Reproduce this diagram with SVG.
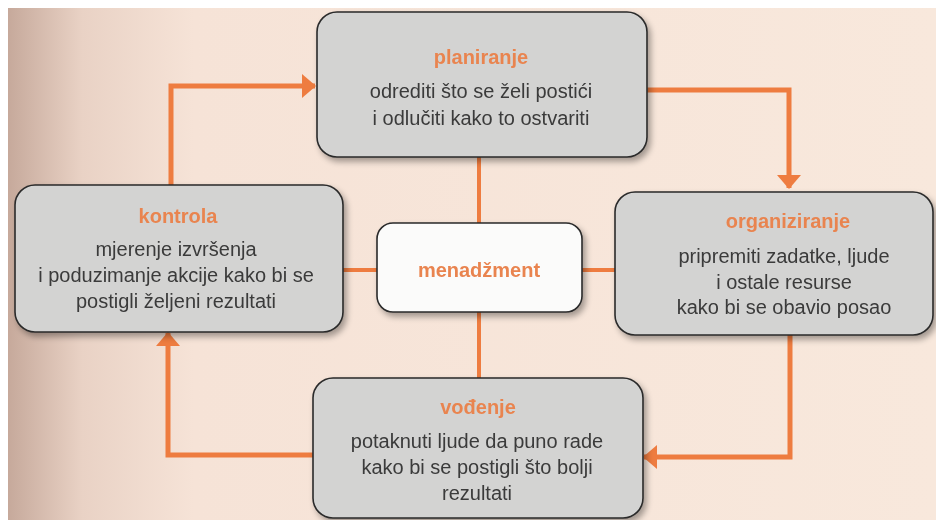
<svg xmlns="http://www.w3.org/2000/svg" width="936" height="520" viewBox="0 0 936 520">
<defs>
<linearGradient id="bg" x1="0" y1="0" x2="1" y2="0">
<stop offset="0" stop-color="#c6a99b"/>
<stop offset="0.08" stop-color="#e9d2c5"/>
<stop offset="0.2" stop-color="#f6e3d7"/>
<stop offset="1" stop-color="#f8e8dc"/>
</linearGradient>
<filter id="sh" x="-10%" y="-10%" width="125%" height="130%">
<feGaussianBlur in="SourceAlpha" stdDeviation="3"/>
<feOffset dx="3" dy="4" result="b"/>
<feComponentTransfer><feFuncA type="linear" slope="0.35"/></feComponentTransfer>
<feMerge><feMergeNode/><feMergeNode in="SourceGraphic"/></feMerge>
</filter>
<marker id="ah" viewBox="0 0 14 24" refX="13" refY="12" markerWidth="14" markerHeight="24" markerUnits="userSpaceOnUse" orient="auto">
<path d="M0,0 L14,12 L0,24 Z" fill="#ee7c40"/>
</marker>
</defs>
<style>
.box{fill:#d3d3d2;stroke:#2a2a2a;stroke-width:1.6}
.center{fill:#fbfbfa;stroke:#2a2a2a;stroke-width:1.6}
.t{font-family:"Liberation Sans",Arial,sans-serif;font-size:20px;fill:#3a3a3a;text-anchor:middle}
.h{font-family:"Liberation Sans",Arial,sans-serif;font-size:20px;font-weight:bold;fill:#e9844f;text-anchor:middle}
.c{fill:none;stroke:#ee7c40;stroke-width:5}
.l{fill:none;stroke:#ee7c40;stroke-width:4}
</style>
<rect x="0" y="0" width="936" height="520" fill="#ffffff"/>
<rect x="8" y="8" width="928" height="512" fill="url(#bg)"/>
<g id="connectors">
<path class="l" d="M479,157 V223"/>
<path class="l" d="M479,312 V378"/>
<path class="l" d="M343,270 H377"/>
<path class="l" d="M582,270 H615"/>
<path class="c" d="M171,185 V86 H315" marker-end="url(#ah)"/>
<path class="c" d="M647,90 H789 V188" marker-end="url(#ah)"/>
<path class="c" d="M790,335 V457 H644" marker-end="url(#ah)"/>
<path class="c" d="M313,455 H168 V333" marker-end="url(#ah)"/>
</g>
<g id="planiranje" filter="url(#sh)">
<rect class="box" x="317" y="12" width="330" height="145" rx="20"/>
<text class="h" x="481" y="64">planiranje</text>
<text class="t" x="481" y="98">odrediti što se želi postići</text>
<text class="t" x="481" y="125">i odlučiti kako to ostvariti</text>
</g>
<g id="kontrola" filter="url(#sh)">
<rect class="box" x="15" y="185" width="328" height="147" rx="20"/>
<text class="h" x="178" y="223">kontrola</text>
<text class="t" x="176" y="256">mjerenje izvršenja</text>
<text class="t" x="176" y="282">i poduzimanje akcije kako bi se</text>
<text class="t" x="176" y="308">postigli željeni rezultati</text>
</g>
<g id="organiziranje" filter="url(#sh)">
<rect class="box" x="615" y="192" width="318" height="143" rx="20"/>
<text class="h" x="788" y="228">organiziranje</text>
<text class="t" x="784" y="263">pripremiti zadatke, ljude</text>
<text class="t" x="784" y="289">i ostale resurse</text>
<text class="t" x="784" y="314">kako bi se obavio posao</text>
</g>
<g id="vodenje" filter="url(#sh)">
<rect class="box" x="313" y="378" width="330" height="140" rx="20"/>
<text class="h" x="478" y="414">vođenje</text>
<text class="t" x="477" y="448">potaknuti ljude da puno rade</text>
<text class="t" x="477" y="474">kako bi se postigli što bolji</text>
<text class="t" x="477" y="500">rezultati</text>
</g>
<g id="menadzment" filter="url(#sh)">
<rect class="center" x="377" y="223" width="205" height="89" rx="16"/>
<text class="h" x="479" y="277">menadžment</text>
</g>
</svg>
